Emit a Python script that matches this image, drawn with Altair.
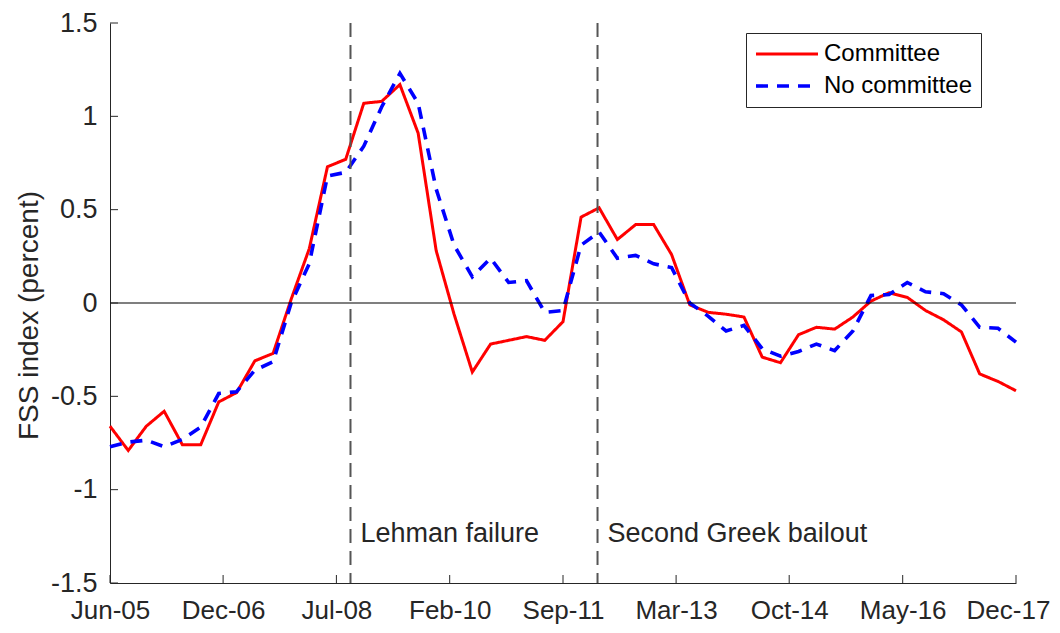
import altair as alt
import pandas as pd

# ---- data ----
quarters = pd.date_range("2005-06-01", "2017-12-01", freq="3MS").strftime("%Y-%m-%d").tolist()

committee = [-0.66, -0.79, -0.66, -0.58, -0.76, -0.76, -0.53, -0.48, -0.31, -0.27,
             0.02, 0.29, 0.73, 0.77, 1.07, 1.08, 1.17, 0.91, 0.28, -0.06,
             -0.37, -0.22, -0.20, -0.18, -0.20, -0.10, 0.46, 0.51, 0.34, 0.42,
             0.42, 0.26, -0.01, -0.05, -0.06, -0.075, -0.29, -0.32, -0.17, -0.13,
             -0.14, -0.075, 0.01, 0.055, 0.03, -0.04, -0.09, -0.155, -0.38, -0.42, -0.47]

no_committee = [-0.77, -0.745, -0.735, -0.77, -0.73, -0.665, -0.485, -0.475, -0.36, -0.315,
                0.0, 0.21, 0.68, 0.70, 0.84, 1.05, 1.23, 1.07, 0.61, 0.31,
                0.14, 0.24, 0.11, 0.12, -0.05, -0.04, 0.31, 0.38, 0.24, 0.255,
                0.21, 0.19, 0.0, -0.07, -0.15, -0.12, -0.245, -0.285, -0.26, -0.22,
                -0.255, -0.15, 0.04, 0.045, 0.11, 0.06, 0.05, -0.01, -0.13, -0.135, -0.21]

series_names = ["Committee", "No committee"]
series_colors = ["#FF0000", "#0000FF"]

event_dates = ["2008-09-25", "2012-02-22"]
event_labels = ["Lehman failure", "Second Greek bailout"]

x_tick_dates = ["2005-06-01", "2006-12-23", "2008-07-16", "2010-02-07", "2011-09-01",
                "2013-03-24", "2014-10-15", "2016-05-09", "2017-12-01"]
y_tick_values = [-1.5, -1.0, -0.5, 0.0, 0.5, 1.0, 1.5]

FONT = "Liberation Sans"
TXT = "#262626"
W, H = 906, 560


def dt(s):
    y, m, d = map(int, s.split("-"))
    return alt.DateTime(year=y, month=m, date=d, utc=True)


df = pd.DataFrame({
    "date": quarters * 2,
    "value": committee + no_committee,
    "series": [series_names[0]] * len(quarters) + [series_names[1]] * len(quarters),
})
events = pd.DataFrame({"date": event_dates, "label": event_labels})
xticks = pd.DataFrame({"date": x_tick_dates})
yticks = pd.DataFrame({"value": y_tick_values})
zero = pd.DataFrame({"value": [0.0]})

x_scale = alt.Scale(type="utc", domain=[dt(quarters[0]), dt(quarters[-1])])
y_scale = alt.Scale(domain=[-1.5, 1.5], nice=False, zero=False)

x_axis = alt.Axis(
    values=[dt(s) for s in x_tick_dates], format="%b-%y", title=None,
    tickSize=0, grid=False, labelPadding=14, labelFlush=False, labelOverlap=False,
    labelOffset={"condition": {"test": "datum.value >= 1512000000000", "value": -8}, "value": 0},
    labelFont=FONT, labelFontSize=26, labelColor=TXT,
    domainColor=TXT, domainWidth=1)
y_axis = alt.Axis(
    values=y_tick_values, labelExpr="'' + datum.value", title="FSS index (percent)",
    tickSize=0, grid=False, labelPadding=13,
    labelFont=FONT, labelFontSize=27, labelColor=TXT,
    titleFont=FONT, titleFontSize=28, titleFontWeight="normal", titleColor=TXT,
    titleX=-73, titleY=292, titleAngle=-90, titleBaseline="alphabetic", titleAlign="center",
    domainColor=TXT, domainWidth=1)

legend = alt.Legend(
    title=None, orient="none", legendX=636, legendY=10,
    symbolType="stroke", symbolSize=3844, symbolStrokeWidth=3,
    labelFont=FONT, labelFontSize=24, labelColor="#000000", labelOffset=4,
    strokeColor="#262626", fillColor="white", padding=8, rowPadding=6, clipHeight=26,
)

X = alt.X("date:T", scale=x_scale, axis=x_axis)
Y = alt.Y("value:Q", scale=y_scale, axis=y_axis)

lines = alt.Chart(df).mark_line().encode(
    x=X, y=Y,
    color=alt.Color("series:N", scale=alt.Scale(domain=series_names, range=series_colors), legend=legend),
    strokeDash=alt.StrokeDash("series:N", scale=alt.Scale(domain=series_names, range=[[1, 0], [12, 9]]), legend=legend),
    strokeWidth=alt.StrokeWidth("series:N", scale=alt.Scale(domain=series_names, range=[3, 3.6]), legend=None),
)

zero_line = alt.Chart(zero).mark_rule(color="#000000", strokeWidth=1.2).encode(y=Y)

event_lines = alt.Chart(events).mark_rule(color="#555555", strokeWidth=2, strokeDash=[14, 8]).encode(x=X)

event_text = alt.Chart(events).mark_text(
    align="left", baseline="alphabetic", dx=10, font=FONT, fontSize=27, color=TXT
).encode(x=X, y=alt.value(519), text="label:N")

y_tick_marks = alt.Chart(yticks).mark_rule(color=TXT, strokeWidth=1).encode(
    y=Y, x=alt.value(0), x2=alt.value(8),
)

x_tick_marks = alt.Chart(xticks).mark_rule(color=TXT, strokeWidth=1).encode(
    x=X, y=alt.value(H), y2=alt.value(H - 8),
)

chart = alt.layer(lines, zero_line, event_lines, event_text, y_tick_marks, x_tick_marks).properties(
    width=W, height=H,
    autosize=alt.AutoSizeParams(type="none"),
    padding={"left": 102, "top": 15, "right": 36, "bottom": 42},
    background="white",
).configure_view(stroke=None)

chart.save("out.html", embed_options={"renderer": "svg", "actions": False})
